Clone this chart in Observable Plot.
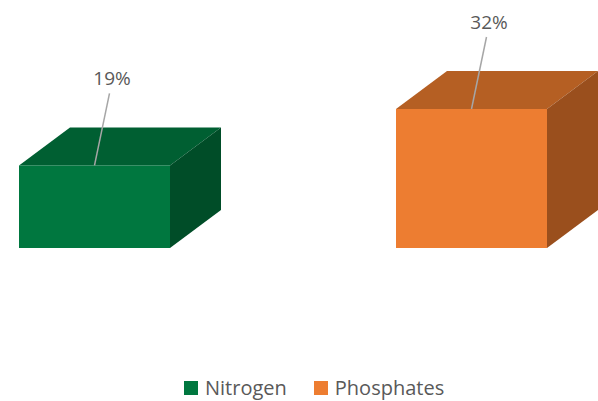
<!DOCTYPE html>
<html>
<head>
<meta charset="utf-8">
<script src="https://cdn.jsdelivr.net/npm/d3@7"></script>
<script src="https://cdn.jsdelivr.net/npm/@observablehq/plot@0.6"></script>
<style>
  html, body { margin: 0; padding: 0; background: #fff; }
  #wrap { position: relative; width: 598px; height: 401px; font-family: "Open Sans", sans-serif; }
  #legend { position: absolute; left: 184px; top: 374px; display: flex; align-items: center; font-size: 20px; color: #595959; white-space: nowrap; }
  .item { display: flex; align-items: center; margin-right: 27px; }
  .sw { width: 14px; height: 14px; margin-right: 7px; }
</style>
</head>
<body>
<div id="wrap"><div id="chart"></div><div id="legend"></div></div>
<script>
const categories = ["Nitrogen", "Phosphates"];
const values = [19, 32];
const labels = ["19%", "32%"];
const frontColors = ["#00773F", "#ED7D31"];
const topColors = ["#005F32", "#B55F23"];
const sideColors = ["#004D28", "#9A4F1D"];

const data = categories.map((c, i) => ({cat: c, value: values[i], label: labels[i], i}));

const DX = 51, DY = 38;

const cube = Plot.barY(data, {
  x: "cat", y: "value", fill: (d) => frontColors[d.i],
  render(index, scales, vals, dims, ctx, next) {
    const g = d3.create("svg:g");
    const bw = scales.x.bandwidth();
    for (const i of index) {
      const d = data[i];
      const x0 = scales.x(d.cat), x1 = x0 + bw;
      const yt = scales.y(d.value), yb = scales.y(0);
      g.append("polygon")
        .attr("points", [[x0, yt], [x1, yt], [x1 + DX, yt - DY], [x0 + DX, yt - DY]].join(" "))
        .attr("fill", topColors[d.i]);
      g.append("polygon")
        .attr("points", [[x1, yt], [x1 + DX, yt - DY], [x1 + DX, yb - DY], [x1, yb]].join(" "))
        .attr("fill", sideColors[d.i]);
      g.append("rect").attr("x", x0).attr("y", yt).attr("width", bw).attr("height", yb - yt)
        .attr("fill", frontColors[d.i]);
      const cx = x0 + bw / 2;
      g.append("line").attr("x1", cx).attr("y1", yt).attr("x2", cx + 15).attr("y2", yt - 72)
        .attr("stroke", "#A6A6A6").attr("stroke-width", 1.5);
    }
    return g.node();
  }
});

const chart = Plot.plot({
  width: 598,
  height: 370,
  margin: 0,
  style: {fontFamily: "Open Sans, sans-serif", background: "transparent"},
  x: {domain: categories, range: [18, 547], paddingInner: 0.6, paddingOuter: 0, axis: null},
  y: {domain: [0, 32], range: [248, 109], axis: null},
  fill: {type: "identity"},
  marks: [
    cube,
    Plot.text(data, {
      x: "cat", y: "value", text: "label", dx: 17, dy: -87,
      fill: "#595959", fontSize: 19
    })
  ]
});
document.getElementById("chart").appendChild(chart);

const legend = document.getElementById("legend");
categories.forEach((c, i) => {
  const it = document.createElement("div");
  it.className = "item";
  it.innerHTML = `<span class="sw" style="background:${frontColors[i]}"></span><span>${c}</span>`;
  legend.appendChild(it);
});
</script>
</body>
</html>
